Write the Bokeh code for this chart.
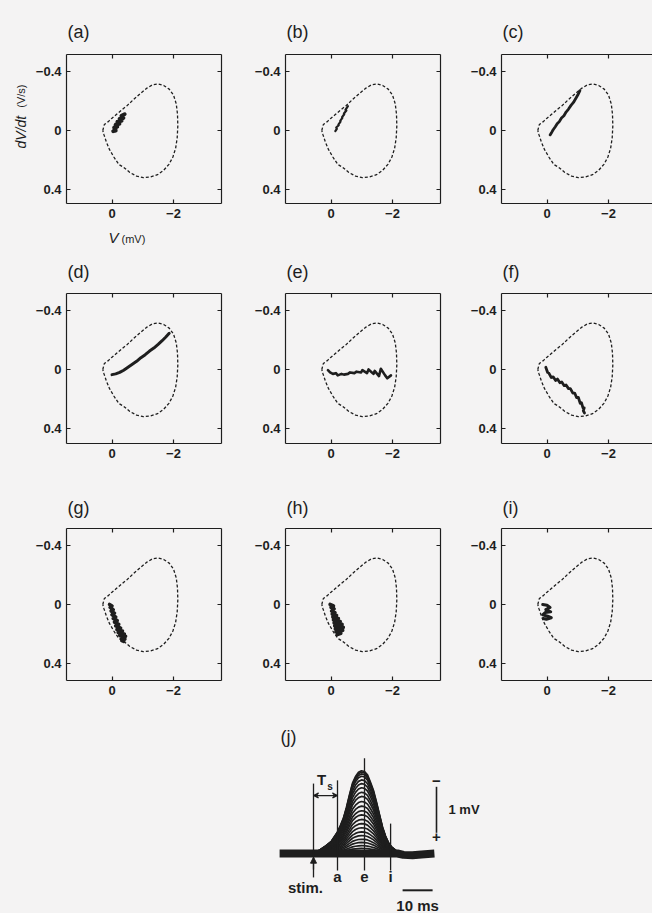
from math import pi

from bokeh.plotting import figure
from bokeh.layouts import column, row
from bokeh.models import Range1d, LinearAxis, FixedTicker, Label, Arrow, NormalHead, VeeHead
from bokeh.embed import file_html
from bokeh.resources import INLINE

# ---------------------------------------------------------------------------
# Phase-plane data: V in mV (plotted with negative to the right),
# dV/dt in V/s (plotted with negative upward).
# ---------------------------------------------------------------------------
V_TICKS = [0, -2]
V_TICK_LABELS = ["0", "\u22122"]
DVDT_TICKS = [-0.4, 0, 0.4]
DVDT_TICK_LABELS = ["\u22120.4", "0", "0.4"]

# limit cycle of the largest response (dotted loop, same in every panel)
LOOP_V = [0.30, 0.25, 0.12, 0.02, -0.15, -0.32, -0.50, -0.70, -0.92, -1.12,
          -1.32, -1.50, -1.68, -1.86, -2.00, -2.09, -2.13, -2.14, -2.12, -2.07,
          -1.98, -1.85, -1.68, -1.48, -1.25, -1.02, -0.80, -0.58, -0.38, -0.22,
          -0.06, 0.08, 0.18, 0.26, 0.30]
LOOP_DVDT = [0.00, -0.04, -0.06, -0.08, -0.11, -0.14, -0.17, -0.21, -0.25, -0.285,
             -0.31, -0.315, -0.305, -0.28, -0.24, -0.18, -0.11, -0.03, 0.05, 0.12,
             0.18, 0.23, 0.27, 0.30, 0.315, 0.32, 0.31, 0.285, 0.25, 0.23,
             0.18, 0.13, 0.08, 0.03, 0.00]

# responses sampled at the successive times a ... i
A_V = [-0.04, -0.12, -0.07, -0.17, -0.12, -0.24, -0.18, -0.31, -0.25, -0.37, -0.31, -0.41]
A_DVDT = [0.005, 0.0, -0.02, -0.025, -0.04, -0.045, -0.06, -0.065, -0.08, -0.085, -0.10, -0.11]

B_V = [-0.14, -0.19, -0.17, -0.25, -0.24, -0.31, -0.30, -0.37, -0.36, -0.43, -0.42, -0.50, -0.47, -0.55]
B_DVDT = [0.005, -0.01, -0.02, -0.035, -0.04, -0.06, -0.065, -0.085, -0.09, -0.11, -0.115, -0.135, -0.14, -0.165]

C_V = [-0.10, -0.16, -0.20, -0.27, -0.33, -0.40, -0.47, -0.55, -0.62, -0.70, -0.78, -0.86, -0.93, -1.00, -1.07]
C_DVDT = [0.03, 0.01, -0.005, -0.025, -0.045, -0.06, -0.085, -0.10, -0.125, -0.145, -0.17, -0.19, -0.215, -0.24, -0.27]

D_V = [0.0, -0.12, -0.25, -0.38, -0.52, -0.66, -0.80, -0.94, -1.08, -1.22, -1.36, -1.50, -1.63, -1.75, -1.86]
D_DVDT = [0.035, 0.03, 0.02, 0.005, -0.015, -0.035, -0.055, -0.08, -0.10, -0.125, -0.145, -0.17, -0.195, -0.22, -0.245]

E_V = [0.10, 0.03, -0.06, -0.16, -0.22, -0.34, -0.42, -0.55, -0.62, -0.76, -0.83,
       -0.98, -1.02, -1.17, -1.22, -1.38, -1.42, -1.56, -1.62, -1.76, -1.83, -1.95]
E_DVDT = [0.005, 0.02, 0.03, 0.025, 0.04, 0.03, 0.035, 0.03, 0.02, 0.025, 0.015,
          0.02, 0.005, 0.025, 0.0, 0.03, 0.01, 0.045, -0.005, 0.04, 0.06, 0.04]

F_V = [0.04, -0.02, -0.06, -0.14, -0.20, -0.28, -0.34, -0.42, -0.48, -0.56, -0.62, -0.70,
       -0.76, -0.84, -0.90, -0.96, -1.02, -1.08, -1.12, -1.17, -1.21, -1.18, -1.22]
F_DVDT = [-0.015, 0.02, 0.025, 0.055, 0.05, 0.075, 0.065, 0.09, 0.085, 0.11, 0.105, 0.13,
          0.13, 0.16, 0.16, 0.19, 0.19, 0.23, 0.225, 0.26, 0.26, 0.28, 0.295]

G_V = [0.08, 0.00, 0.06, -0.04, 0.03, -0.08, 0.0, -0.12, -0.04, -0.17, -0.08, -0.22,
       -0.12, -0.28, -0.16, -0.34, -0.20, -0.40, -0.25, -0.44, -0.30, -0.42, -0.32, -0.38]
G_DVDT = [0.0, 0.01, 0.02, 0.035, 0.045, 0.06, 0.07, 0.085, 0.095, 0.11, 0.12, 0.135,
          0.145, 0.16, 0.17, 0.18, 0.19, 0.2, 0.21, 0.215, 0.225, 0.235, 0.245, 0.25]

H_V = [0.03, -0.08, 0.0, -0.10, -0.02, -0.13, -0.04, -0.18, -0.06, -0.24, -0.08,
       -0.30, -0.10, -0.36, -0.12, -0.40, -0.14, -0.38, -0.16, -0.32, -0.20]
H_DVDT = [0.0, 0.01, 0.02, 0.03, 0.045, 0.055, 0.065, 0.075, 0.085, 0.095, 0.105,
          0.115, 0.125, 0.135, 0.145, 0.155, 0.165, 0.175, 0.185, 0.195, 0.205]

I_V = [0.14, 0.0, -0.10, 0.04, -0.12, 0.06, 0.14, -0.02, -0.14, 0.02, 0.12]
I_DVDT = [0.0, 0.005, 0.02, 0.035, 0.05, 0.055, 0.07, 0.08, 0.09, 0.10, 0.095]

PANEL_NAMES = ["(a)", "(b)", "(c)", "(d)", "(e)", "(f)", "(g)", "(h)", "(i)"]
PANEL_V = [A_V, B_V, C_V, D_V, E_V, F_V, G_V, H_V, I_V]
PANEL_DVDT = [A_DVDT, B_DVDT, C_DVDT, D_DVDT, E_DVDT, F_DVDT, G_DVDT, H_DVDT, I_DVDT]
PANEL_WIDTH = [4.0, 2.2, 2.8, 3.0, 2.6, 2.8, 3.6, 3.6, 3.0]

# ---------------------------------------------------------------------------
# Superimposed field responses (time in ms from the stimulus, potential in mV)
# ---------------------------------------------------------------------------
TRACE_T = [-11, 0, 2, 4, 6, 8, 9, 10, 11, 12, 13, 14, 15, 16, 17, 18, 19, 20,
           21, 22, 23, 24, 25, 26, 27, 28, 30, 32, 34, 37, 40]
TRACE_SHAPE = [0.0, 0.01, 0.04, 0.09, 0.15, 0.26, 0.34, 0.43, 0.56, 0.71, 0.85, 0.93,
               0.98, 1.0, 0.99, 0.95, 0.86, 0.76, 0.62, 0.47, 0.32, 0.21, 0.13, 0.08,
               0.05, 0.02, -0.01, -0.02, -0.02, -0.01, 0.0]
EPSP_PEAKS = [1.80, 1.77, 1.73, 1.68, 1.60, 1.52, 1.43, 1.33, 1.24, 1.13, 1.03, 0.93,
              0.84, 0.74, 0.65, 0.56, 0.47, 0.39, 0.31, 0.24, 0.17, 0.11, 0.06]
BASELINE_T = [-11.3, 0, 28, 30, 33, 36, 40.3]
BASELINE_V = [0.0, 0.0, 0.0, 0.03, 0.04, 0.02, 0.0]

MARK_NAMES = ["stim.", "a", "e", "i"]
MARK_T = [0, 8, 17, 25.7]
MARK_TOP = [-1.52, -1.59, -2.07, -0.65]
SCALE_MV = 1
SCALE_MS = 10

# ---------------------------------------------------------------------------
INK = "#1e1e1e"
BG = "#f4f3f3"
FONT = "Liberation Sans"

PX_PER_MV = 30.75
PX_PER_VS = 147.5
V_AT_LEFT = 1.48
DVDT_AT_TOP = -0.515

YLABEL_STRIP_W = 30
# left border, frame width, right border for each column
COLS = [(66, 155, 5), (59, 155, 5), (56, 151, 0)]
# height, top border, bottom border of each row of panels
ROWS = [(179, 8, 22), (180, 8, 22), (182, 8, 22)]
# heights of the caption strips above each row
STRIPS = [46, 60, 55]
J_H = 913 - sum(STRIPS) - sum(r[0] for r in ROWS)
TOTAL_W = 652
PAGE = {"background-color": BG}


def frame_lefts():
    lefts, x = [], 0
    for lb, fw, rb in COLS:
        lefts.append(x + lb)
        x += lb + fw + rb
    return lefts


def style_axis(ax, labels):
    ax.axis_line_color = INK
    ax.axis_line_width = 1.2
    ax.major_tick_line_color = INK
    ax.major_tick_line_width = 1.2
    ax.major_tick_in = 4
    ax.major_tick_out = 0
    ax.minor_tick_line_color = None
    if labels:
        ax.major_label_text_font = FONT
        ax.major_label_text_font_size = "13px"
        ax.major_label_text_font_style = "bold"
        ax.major_label_text_color = INK
        ax.major_label_standoff = 5
    else:
        ax.major_label_text_font_size = "1px"
        ax.major_label_text_color = None
        ax.major_label_standoff = 0


def put(p, x, y, text, size, style="normal", align="left", baseline="middle", angle=0.0):
    p.add_layout(Label(x=x, y=y, text=text, text_font=FONT, text_font_size=size,
                       text_font_style=style, text_color=INK, text_align=align,
                       text_baseline=baseline, angle=angle))


def blank(width, height):
    # a plain canvas measured in pixels, y growing downward
    p = figure(width=width, height=height, x_range=Range1d(0, width),
               y_range=Range1d(height, 0), x_axis_type=None, y_axis_type=None,
               min_border=0, output_backend="svg", toolbar_location=None,
               background_fill_color=BG, border_fill_color=BG, outline_line_color=None,
               styles=PAGE)
    return p


def phase_panel(k, lb_override=None):
    ci, ri = k % 3, k // 3
    lb, fw, rb = COLS[ci]
    if lb_override is not None:
        lb = lb_override
    h, tb, bb = ROWS[ri]
    fh = h - tb - bb
    p = figure(width=lb + fw + rb, height=h,
               x_range=Range1d(V_AT_LEFT, V_AT_LEFT - fw / PX_PER_MV),
               y_range=Range1d(DVDT_AT_TOP + fh / PX_PER_VS, DVDT_AT_TOP),
               x_axis_type=None, y_axis_type=None,
               min_border_left=lb, min_border_right=rb,
               min_border_top=tb, min_border_bottom=bb,
               output_backend="svg", toolbar_location=None,
               background_fill_color=BG, border_fill_color=BG,
               outline_line_color=None, styles=PAGE)

    below = LinearAxis(ticker=FixedTicker(ticks=V_TICKS),
                       major_label_overrides=dict(zip(V_TICKS, V_TICK_LABELS)))
    above = LinearAxis(ticker=FixedTicker(ticks=V_TICKS))
    left = LinearAxis(ticker=FixedTicker(ticks=DVDT_TICKS),
                      major_label_overrides=dict(zip(DVDT_TICKS, DVDT_TICK_LABELS)))
    style_axis(below, True)
    style_axis(above, False)
    style_axis(left, True)
    p.add_layout(below, "below")
    p.add_layout(above, "above")
    p.add_layout(left, "left")
    if rb > 0:
        right = LinearAxis(ticker=FixedTicker(ticks=DVDT_TICKS))
        style_axis(right, False)
        p.add_layout(right, "right")

    p.line(LOOP_V, LOOP_DVDT, line_color=INK, line_width=1.3, line_dash="3 2")
    p.line(PANEL_V[k], PANEL_DVDT[k], line_color=INK, line_width=PANEL_WIDTH[k],
           line_join="round", line_cap="round")
    return p


lefts = frame_lefts()

# caption strips carrying the panel letters (and the V axis title of panel a)
strips = []
for ri, sh in enumerate(STRIPS):
    s = blank(TOTAL_W, sh)
    for ci in range(3):
        put(s, lefts[ci] + 1, sh - [5, 4, 3][ri], PANEL_NAMES[ri * 3 + ci], "18px",
            baseline="bottom")
    strips.append(s)
put(strips[1], 108, 12, "V", "15px", style="italic")
put(strips[1], 121, 13, "(mV)", "11px")

# rotated dV/dt axis title at the left of panel (a)
ystrip = blank(YLABEL_STRIP_W, ROWS[0][0])
put(ystrip, 20, 113, "dV/dt", "14px", style="italic", angle=pi / 2)
put(ystrip, 20, 64, "(V/s)", "11px", angle=pi / 2)

panels = [phase_panel(k, COLS[0][0] - YLABEL_STRIP_W if k == 0 else None) for k in range(9)]

# ---------------------------------------------------------------------------
# Panel (j): superimposed responses with timing marks and scale bars
# ---------------------------------------------------------------------------
PX_PER_MS = 3.0
PX_PER_MVJ = 46.0
STIM_X, BASE_Y = 313, J_H - 60

pj = figure(width=TOTAL_W, height=J_H,
            x_range=Range1d(-STIM_X / PX_PER_MS, (TOTAL_W - STIM_X) / PX_PER_MS),
            y_range=Range1d((J_H - BASE_Y) / PX_PER_MVJ, -BASE_Y / PX_PER_MVJ),
            x_axis_type=None, y_axis_type=None, min_border=0,
            output_backend="svg", toolbar_location=None,
            background_fill_color=BG, border_fill_color=BG, outline_line_color=None,
            styles=PAGE)

trace_ys = [[-pk * s for s in TRACE_SHAPE] for pk in EPSP_PEAKS]
pj.multi_line([TRACE_T] * len(EPSP_PEAKS), trace_ys, line_color=INK, line_width=1.7)
pj.line(BASELINE_T, BASELINE_V, line_color=INK, line_width=8)

mark_bottom = 0.37
pj.segment(x0=MARK_T, y0=MARK_TOP, x1=MARK_T, y1=[mark_bottom + 0.15] + [mark_bottom] * 3,
           line_color=INK, line_width=1.3)
for name, t in zip(MARK_NAMES, MARK_T):
    if name == "stim.":
        put(pj, t - 2.7, 0.74, name, "15px", style="bold", align="center")
    else:
        put(pj, t, 0.50, name, "15px", style="bold", align="center")

# stimulus arrow
pj.add_layout(Arrow(end=NormalHead(size=6, fill_color=INK, line_color=INK),
                    x_start=MARK_T[0], y_start=0.35, x_end=MARK_T[0], y_end=0.08,
                    line_color=INK, line_width=1.3))

# latency T_s between stimulus and mark a
ts_y = -1.26
pj.add_layout(Arrow(start=VeeHead(size=5, line_color=INK, line_width=1.2),
                    end=VeeHead(size=5, line_color=INK, line_width=1.2),
                    x_start=MARK_T[0], y_start=ts_y, x_end=MARK_T[1], y_end=ts_y,
                    line_color=INK, line_width=1.2))
put(pj, 1.2, -1.60, "T", "15px", style="bold")
put(pj, 4.6, -1.46, "s", "10px", style="bold")

# scale bars
bar_t = 41.0
bar_top = -1.45
pj.segment(x0=[bar_t], y0=[bar_top], x1=[bar_t], y1=[bar_top + SCALE_MV],
           line_color=INK, line_width=1.6)
put(pj, bar_t, bar_top - 0.13, "\u2212", "15px", style="bold", align="center")
put(pj, bar_t, bar_top + SCALE_MV + 0.1, "+", "15px", style="bold", align="center")
put(pj, bar_t + 4.0, bar_top + SCALE_MV / 2, f"{SCALE_MV} mV", "13px", style="bold")

hbar_y = 0.80
hbar_t0 = 29.7
pj.segment(x0=[hbar_t0], y0=[hbar_y], x1=[hbar_t0 + SCALE_MS], y1=[hbar_y],
           line_color=INK, line_width=2)
put(pj, hbar_t0 + SCALE_MS / 2, hbar_y + 0.33, f"{SCALE_MS} ms", "15px", style="bold",
    align="center")

put(pj, -11, -2.54, "(j)", "18px")

layout = column(
    strips[0],
    row(ystrip, *panels[0:3], styles=PAGE),
    strips[1],
    row(*panels[3:6], styles=PAGE),
    strips[2],
    row(*panels[6:9], styles=PAGE),
    pj,
    styles=PAGE,
)

with open("out.html", "w") as fh_out:
    fh_out.write(file_html(layout, INLINE, title="Phase-plane trajectories"))
